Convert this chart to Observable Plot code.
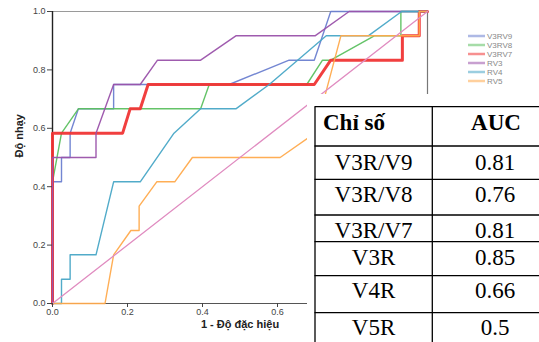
<!DOCTYPE html>
<html><head><meta charset="utf-8">
<script src="https://cdn.jsdelivr.net/npm/d3@7"></script>
<script src="https://cdn.jsdelivr.net/npm/@observablehq/plot@0.6"></script>
<style>
body{margin:0;background:#fff;}
#wrap{position:relative;width:539px;height:342px;overflow:hidden;background:#fff;}
#wrap svg{position:absolute;left:0;top:0;}
</style></head><body><div id="wrap"></div>
<script>
// ---- data ----
const seriesNames = ["V3RV9", "V3RV8", "V3RV7", "RV3", "RV4", "RV5"];
const seriesColors = ["#6b7fd0", "#5cc060", "#f03535", "#9a52aa", "#48a6c6", "#ffaa4c"];

const v3rv9Fpr  = [0, 0, 0.024, 0.024, 0.047, 0.047, 0.069, 0.163, 0.163, 0.471, 0.631, 0.698, 0.742, 1];
const v3rv9Sens = [0, 0.4167, 0.4167, 0.5, 0.5, 0.5833, 0.6667, 0.6667, 0.75, 0.75, 0.8333, 0.8333, 1, 1];

const v3rv8Fpr  = [0, 0, 0.024, 0.069, 0.395, 0.418, 0.678, 0.72, 0.742, 0.858, 0.929, 0.929, 1];
const v3rv8Sens = [0, 0.4167, 0.5833, 0.6667, 0.6667, 0.75, 0.75, 0.8333, 0.8333, 0.9167, 0.9167, 1, 1];

const v3rv7Fpr  = [0, 0, 0.187, 0.207, 0.234, 0.255, 0.698, 0.742, 0.933, 0.933, 0.978, 0.978, 1];
const v3rv7Sens = [0, 0.5833, 0.5833, 0.6667, 0.6667, 0.75, 0.75, 0.8333, 0.8333, 0.9167, 0.9167, 1, 1];

const rv3Fpr  = [0, 0, 0.116, 0.116, 0.163, 0.234, 0.28, 0.395, 0.489, 0.70, 0.791, 1];
const rv3Sens = [0, 0.5, 0.5, 0.5833, 0.75, 0.75, 0.8333, 0.8333, 0.9167, 0.9167, 1, 1];

const rv4Fpr  = [0, 0.024, 0.024, 0.047, 0.047, 0.116, 0.163, 0.234, 0.324, 0.395, 0.489, 0.578, 0.73, 0.842, 0.931, 1];
const rv4Sens = [0, 0, 0.0833, 0.0833, 0.1667, 0.1667, 0.4167, 0.4167, 0.5833, 0.6667, 0.6667, 0.75, 0.9167, 0.9167, 1, 1];

const rv5Fpr  = [0, 0.14, 0.163, 0.209, 0.231, 0.231, 0.278, 0.326, 0.373, 0.607, 0.70, 0.769, 0.978, 0.978, 1];
const rv5Sens = [0, 0, 0.1667, 0.25, 0.25, 0.3333, 0.4167, 0.4167, 0.5, 0.5, 0.5833, 0.9167, 0.9167, 1, 1];

const refFpr  = [0, 1];
const refSens = [0, 1];

const tableHeader = ["Chỉ số", "AUC"];
const tableIndex = ["V3R/V9", "V3R/V8", "V3R/V7", "V3R", "V4R", "V5R"];
const tableAUC = ["0.81", "0.76", "0.81", "0.85", "0.66", "0.5"];

const xTicks = [0, 0.2, 0.4, 0.6, 0.8, 1.0];
const yTicks = [0, 0.2, 0.4, 0.6, 0.8, 1.0];
const xTitle = "1 - Độ đặc hiệu";
const yTitle = "Độ nhạy";

// ---- build tables ----
const fprs = [v3rv9Fpr, v3rv8Fpr, v3rv7Fpr, rv3Fpr, rv4Fpr, rv5Fpr];
const senss = [v3rv9Sens, v3rv8Sens, v3rv7Sens, rv3Sens, rv4Sens, rv5Sens];
const seriesData = seriesNames.map((name, k) => fprs[k].map((x, i) => ({series: name, x, y: senss[k][i]})));
const refData = refFpr.map((x, i) => ({x, y: refSens[i]}));

const W = 539, H = 342;
const lineMarks = seriesData.map((d, k) =>
  Plot.line(d, {x: "x", y: "y", stroke: seriesColors[k], strokeWidth: seriesNames[k] === "V3RV7" ? 3 : 1.4, strokeOpacity: 0.95, curve: "linear"})
);

const chart = Plot.plot({
  width: W, height: H,
  marginLeft: 52, marginRight: 112, marginTop: 11, marginBottom: 39,
  style: {fontFamily: "'Liberation Sans', Arial, sans-serif", fontSize: "9px", background: "transparent"},
  x: {domain: [0, 1]},
  y: {domain: [0, 1]},
  marks: [
    Plot.ruleY([1], {stroke: "#9a9a9a", strokeWidth: 1.2}),
    Plot.ruleX([1], {stroke: "#777", strokeWidth: 1.2}),
    Plot.ruleY([0], {stroke: "#555", strokeWidth: 1.2}),
    Plot.ruleX([0], {stroke: "#222", strokeWidth: 1.4}),
    ...lineMarks,
    Plot.line(refData, {x: "x", y: "y", stroke: "#e08cc0", strokeWidth: 1.3}),
    Plot.axisY(yTicks, {tickFormat: d3.format(".1f"), tickSize: 5, tickPadding: 2, color: "#444", fontSize: 9, label: null}),
    Plot.axisX(xTicks, {tickFormat: d3.format(".1f"), tickSize: 4, tickPadding: 1, color: "#444", fontSize: 9, label: null}),
    Plot.text([yTitle], {text: d => d, frameAnchor: "left", rotate: -90, dx: -33, fontWeight: "bold", fontSize: 11, fill: "#222"}),
    Plot.text([xTitle], {text: d => d, frameAnchor: "bottom", dy: 24, fontWeight: "bold", fontSize: 11, fill: "#222"})
  ]
});
document.getElementById("wrap").appendChild(chart);

// ---- overlay: legend + table ----
const ov = d3.select("#wrap").append("svg").attr("width", W).attr("height", H);

const lg = ov.append("g").attr("font-family", "'Liberation Sans', Arial, sans-serif").attr("font-size", 8);
seriesNames.forEach((name, i) => {
  const yy = 36 + i * 9;
  lg.append("line").attr("x1", 468).attr("x2", 485).attr("y1", yy).attr("y2", yy)
    .attr("stroke", seriesColors[i]).attr("stroke-opacity", 0.55).attr("stroke-width", 2.5);
  lg.append("text").attr("x", 487).attr("y", yy).attr("dy", "0.35em").attr("fill", "#888").text(name);
});

// table
ov.append("rect").attr("x", 307).attr("y", 94).attr("width", W - 307).attr("height", H - 94).attr("fill", "#fff");
const rowTops = [106.7, 146, 179.3, 215, 241.7, 275.7, 312.7];
const baselines = [130, 170, 201.7, 238.3, 265, 298.3, 335];
const tb = ov.append("g").attr("font-family", "'Liberation Serif', 'Times New Roman', serif").attr("font-size", 23).attr("fill", "#000");
rowTops.forEach(t => tb.append("line").attr("x1", 314.5).attr("x2", W).attr("y1", t).attr("y2", t).attr("stroke", "#000").attr("stroke-width", 1.3));
[315, 432.3].forEach(x => tb.append("line").attr("x1", x).attr("x2", x).attr("y1", rowTops[0]).attr("y2", H).attr("stroke", "#000").attr("stroke-width", 1.3));
tb.append("text").attr("x", 323).attr("y", baselines[0]).attr("font-weight", "bold").text(tableHeader[0]);
tb.append("text").attr("x", 496).attr("y", baselines[0]).attr("font-weight", "bold").attr("text-anchor", "middle").text(tableHeader[1]);
tableIndex.forEach((name, i) => {
  tb.append("text").attr("x", 373.6).attr("y", baselines[i + 1]).attr("text-anchor", "middle").text(name);
  tb.append("text").attr("x", 495).attr("y", baselines[i + 1]).attr("text-anchor", "middle").text(tableAUC[i]);
});
</script>
</body></html>
